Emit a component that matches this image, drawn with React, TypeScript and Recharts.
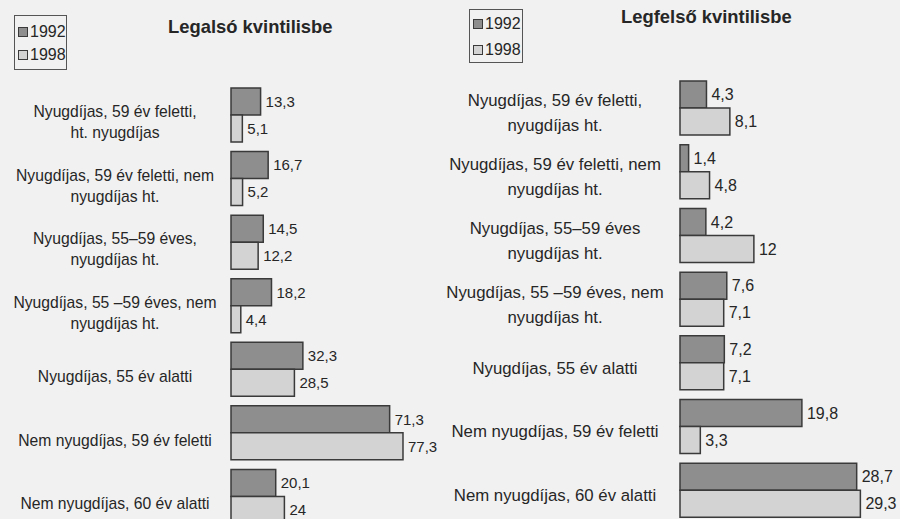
import React from 'react'
import { BarChart, Bar, XAxis, YAxis, LabelList } from 'recharts'

// categories (\n = line break in the label)
const lowestCategories = [
  'Nyugdíjas, 59 év feletti,\nht. nyugdíjas',
  'Nyugdíjas, 59 év feletti, nem\nnyugdíjas ht.',
  'Nyugdíjas, 55–59 éves,\nnyugdíjas ht.',
  'Nyugdíjas, 55 –59 éves, nem\nnyugdíjas ht.',
  'Nyugdíjas, 55 év alatti',
  'Nem nyugdíjas, 59 év feletti',
  'Nem nyugdíjas, 60 év alatti',
]
const topCategories = [
  'Nyugdíjas, 59 év feletti,\nnyugdíjas ht.',
  'Nyugdíjas, 59 év feletti, nem\nnyugdíjas ht.',
  'Nyugdíjas, 55–59 éves\nnyugdíjas ht.',
  'Nyugdíjas, 55 –59 éves, nem\nnyugdíjas ht.',
  'Nyugdíjas, 55 év alatti',
  'Nem nyugdíjas, 59 év feletti',
  'Nem nyugdíjas, 60 év alatti',
]

const lowest1992 = [13.3, 16.7, 14.5, 18.2, 32.3, 71.3, 20.1]
const lowest1998 = [5.1, 5.2, 12.2, 4.4, 28.5, 77.3, 24]
const top1992 = [4.3, 1.4, 4.2, 7.6, 7.2, 19.8, 28.7]
const top1998 = [8.1, 4.8, 12, 7.1, 7.1, 3.3, 29.3]

const years = ['1992', '1998']

const FONT = '"Liberation Sans", Arial, Helvetica, sans-serif'
const TEXT = '#262626'
const EDGE = '#3a3a3a'
const FILL_1992 = '#8e8e8e'
const FILL_1998 = '#d3d3d3'

const lowestData = lowestCategories.map((name, i) => ({ name, y1992: lowest1992[i], y1998: lowest1998[i] }))
const topData = topCategories.map((name, i) => ({ name, y1992: top1992[i], y1998: top1998[i] }))

const fmt = (v: any) => String(v).replace('.', ',')

// multi-line category label, lines centred on a fixed x
const makeTick = (centerX: number, fontSize: number, lineGap: number, shift: number) => (props: any) => {
  const { y, payload } = props
  const lines = String(payload.value).split('\n')
  const n = lines.length
  return (
    <text textAnchor="middle" fontSize={fontSize} fill={TEXT} fontFamily={FONT}>
      {lines.map((l, i) => (
        <tspan key={i} x={centerX} y={y + shift + (i - (n - 1) / 2) * lineGap}>
          {l}
        </tspan>
      ))}
    </text>
  )
}

const Panel = ({ data, left, top, width, height, marginTop, marginRight, axisWidth, domain, tick, valueSize }: any) => (
  <div style={{ position: 'absolute', left, top }}>
    <BarChart
      width={width}
      height={height}
      data={data}
      layout="vertical"
      margin={{ top: marginTop, right: marginRight, bottom: 0, left: 0 }}
      barSize={27}
      barGap={0}
    >
      <XAxis type="number" domain={domain} hide />
      <YAxis
        type="category"
        dataKey="name"
        width={axisWidth}
        axisLine={false}
        tickLine={false}
        interval={0}
        tick={tick}
      />
      <Bar dataKey="y1992" fill={FILL_1992} stroke={EDGE} strokeWidth={1.5} isAnimationActive={false}>
        <LabelList dataKey="y1992" position="right" offset={5} formatter={fmt} style={{ fontSize: valueSize, fill: TEXT, fontFamily: FONT }} />
      </Bar>
      <Bar dataKey="y1998" fill={FILL_1998} stroke={EDGE} strokeWidth={1.5} isAnimationActive={false}>
        <LabelList dataKey="y1998" position="right" offset={5} formatter={fmt} style={{ fontSize: valueSize, fill: TEXT, fontFamily: FONT }} />
      </Bar>
    </BarChart>
  </div>
)

const LegendBox = ({ left, top, width, height, rows }: any) => (
  <div
    style={{
      position: 'absolute',
      left,
      top,
      width,
      height,
      border: '1px solid #555',
      boxSizing: 'border-box',
    }}
  >
    {years.map((yr, i) => (
      <div
        key={yr}
        style={{
          position: 'absolute',
          left: 3,
          top: rows[i] - 9,
          height: 18,
          lineHeight: '18px',
          fontSize: 16,
          color: TEXT,
          display: 'flex',
          alignItems: 'center',
        }}
      >
        <span
          style={{
            display: 'inline-block',
            width: 8,
            height: 8,
            marginRight: 2,
            border: `1px solid ${EDGE}`,
            background: i === 0 ? FILL_1992 : FILL_1998,
          }}
        />
        {yr}
      </div>
    ))}
  </div>
)

export default function App() {
  return (
    <div
      style={{
        position: 'fixed',
        left: 0,
        top: 0,
        width: 900,
        height: 519,
        overflow: 'hidden',
        background: '#f1f1f1',
        fontFamily: FONT,
      }}
    >
      <LegendBox left={14} top={15} width={53} height={55} rows={[16, 39]} />
      <LegendBox left={469} top={9} width={54} height={54} rows={[14, 40]} />

      <div style={{ position: 'absolute', left: 168, top: 16, fontSize: 18.4, fontWeight: 'bold', color: TEXT }}>
        Legalsó kvintilisbe
      </div>
      <div style={{ position: 'absolute', left: 621, top: 6, fontSize: 18.4, fontWeight: 'bold', color: TEXT }}>
        Legfelső kvintilisbe
      </div>

      <Panel
        data={lowestData}
        left={0}
        top={0}
        width={449}
        height={528}
        marginTop={83}
        marginRight={40}
        axisWidth={231}
        domain={[0, 80]}
        tick={makeTick(115, 15.7, 21, 13)}
        valueSize={15}
      />
      <Panel
        data={topData}
        left={430}
        top={0}
        width={470}
        height={522}
        marginTop={76}
        marginRight={23}
        axisWidth={250}
        domain={[0, 32]}
        tick={makeTick(125, 16.8, 25, 11)}
        valueSize={16}
      />
    </div>
  )
}
